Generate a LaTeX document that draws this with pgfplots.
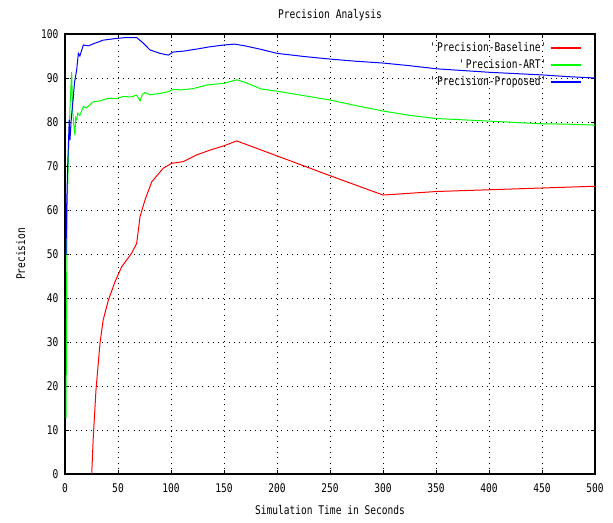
\documentclass[border=0pt]{standalone}
\usepackage{fontspec}
\setmainfont{DejaVu Sans Mono}[FakeStretch=0.8]
\usepackage{pgfplots}
\pgfplotsset{compat=1.18}

\pgfplotstableread{
x y
25.2 0
26.7 8.5
29.2 19
33 29.7
36 35
40.9 39.5
47.2 43.7
53.5 47.1
62.9 50.2
67.6 52.4
70.8 58.5
75.5 62.3
81.8 66.4
92.7 69.5
100.6 70.6
111.6 71
124 72.5
136.8 73.6
150 74.6
162 75.7
200 72.3
250 67.8
300 63.4
350 64.2
400 64.6
450 65
500 65.4
}\baseline

\pgfplotstableread{
x y
1 12.7
1.5 40
2 60
3 70
4 78
5 85
6.3 91.4
7 84
8 80
9.4 77
10 81
11 80.5
12 82
14 81.5
17.3 83.5
20 83.2
26.7 84.6
33 84.8
40.9 85.4
48 85.3
55 85.8
62 85.7
67.6 86.1
70.8 84.8
73 86.3
75.5 86.7
80 86.2
90 86.5
97.5 86.9
102 87.4
110 87.3
121 87.6
133.6 88.4
150 88.8
162 89.6
170 89
185 87.5
200 87
225 86
250 85
275 83.7
300 82.5
325 81.5
350 80.8
375 80.5
400 80.2
425 79.9
450 79.6
475 79.5
500 79.3
}\art

\pgfplotstableread{
x y
0 50
1 50
1.5 60
2.5 69.8
4 80.5
4.7 75.9
6 81
7.9 85.8
9 89
11 91.8
12.6 95.6
14 95
17.3 97.5
22 97.3
27 97.8
36 98.6
48.7 99
58 99.2
67.6 99.2
74 97.9
80 96.4
89.6 95.6
97.5 95.2
102 95.9
111.6 96.1
125 96.6
136.8 97.1
150 97.5
160 97.7
170 97.3
185 96.5
200 95.6
225 94.9
250 94.3
275 93.8
300 93.4
325 92.8
350 92.1
375 91.7
400 91.3
425 91
450 90.7
475 90.3
500 90
}\proposed

\begin{document}
\begin{tikzpicture}
\begin{axis}[
    name=ax,
    scale only axis,
    width=530bp, height=440bp,
    xmin=0, xmax=500, ymin=0, ymax=100,
    xtick distance=50, ytick distance=10,
    /pgf/number format/assume math mode=true,
    tick align=inside,
    major tick length=4bp,
    tick style={black, line width=0.8pt},
    axis line style={black, line width=1.6pt},
    grid=major,
    grid style={black, line width=0.9pt, dash pattern=on 0.9pt off 4.4pt},
    title={Precision Analysis},
    title style={yshift=4bp},
    xlabel={Simulation Time in Seconds},
    xlabel style={yshift=-6bp},
    ylabel={Precision},
    ylabel style={yshift=9bp},
    xticklabel style={yshift=-6bp},
    yticklabel style={xshift=-3bp},
    tick label style={font=\fontsize{12}{13}\selectfont},
    label style={font=\fontsize{12}{13}\selectfont},
    every axis title/.append style={font=\fontsize{12}{13}\selectfont},
    legend plot pos=right,
    legend cell align=right,
    legend style={draw=none, fill=none, at={(0.98,0.99)}, anchor=north east,
        font=\fontsize{12}{13}\selectfont, row sep=2.5bp,
        /tikz/every even column/.append style={column sep=2bp}},
    legend image code/.code={\draw[#1, line width=1.3pt] (0bp,0bp) -- (30bp,0bp);},
]
\addplot[color=red, line width=1pt] table[x=x, y=y] {\baseline};
\addlegendentry{\textquotesingle Precision-Baseline\textquotesingle}
\addplot[color=green, line width=1pt] table[x=x, y=y] {\art};
\addlegendentry{\textquotesingle Precision-ART\textquotesingle}
\addplot[color=blue, line width=1pt] table[x=x, y=y] {\proposed};
\addlegendentry{\textquotesingle Precision-Proposed\textquotesingle}
\end{axis}
\path[use as bounding box] ([xshift=-65bp, yshift=-48bp]ax.south west) rectangle ([xshift=18bp, yshift=34bp]ax.north east);
\end{tikzpicture}
\end{document}
